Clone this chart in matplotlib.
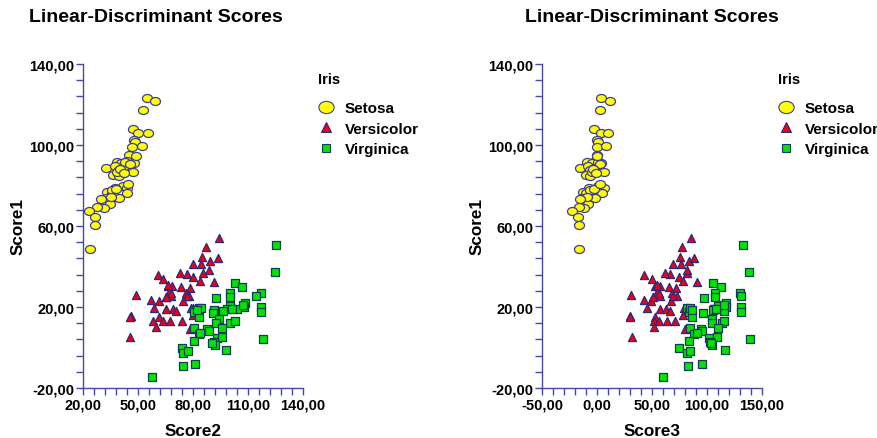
import matplotlib.pyplot as plt
from matplotlib.lines import Line2D
from matplotlib.path import Path
from matplotlib.transforms import Affine2D
from matplotlib.ticker import AutoMinorLocator, FuncFormatter

plt.rcParams['font.family'] = ['Liberation Sans', 'DejaVu Sans']
plt.rcParams['font.weight'] = 'bold'

# Discriminant scores (Score1 shared by both panels)
species = ["Setosa", "Versicolor", "Virginica"]

setosa_s1 = [123.1, 121.6, 117.4, 107.9, 106.1, 105.9, 102.6, 101.3, 99.0, 99.4,
             95.1, 92.1, 91.1, 91.5, 91.1, 88.5, 89.5, 88.8, 87.5, 86.8,
             85.2, 84.8, 86.8, 79.6, 78.6, 78.6, 76.3, 76.6, 76.3, 74.0,
             74.3, 73.7, 72.0, 70.7, 68.7, 69.4, 67.4, 64.4, 60.5, 48.6,
             77.6, 91.8, 90.5, 74.1, 88.1, 86.2, 78.3, 73.3, 80.7, 94.6]
setosa_s2 = [55.1, 59.4, 52.7, 47.1, 49.8, 55.5, 48.0, 48.5, 46.9, 52.2,
             45.1, 43.8, 47.8, 38.7, 40.9, 32.5, 37.6, 41.7, 39.8, 47.4,
             36.5, 39.8, 38.7, 42.0, 37.3, 44.2, 43.8, 33.3, 35.8, 32.5,
             37.3, 39.5, 31.8, 34.7, 31.5, 27.8, 23.4, 26.4, 26.4, 23.8,
             35.8, 42.7, 45.6, 35.1, 40.2, 42.4, 38.0, 29.8, 44.5, 48.9]
setosa_s3 = [3.4, 11.5, 2.7, -2.5, 3.6, 10.3, 0.3, 1.2, -0.3, 8.5,
             0.0, -1.8, 3.6, -9.1, -4.8, -15.7, -7.9, -3.0, -6.1, 6.6,
             -10.3, -6.1, -4.8, 1.2, -7.3, 6.1, 4.8, -12.7, -10.3, -13.9,
             -4.8, -1.8, -12.1, -7.9, -12.1, -16.4, -23.0, -17.0, -16.4, -16.4,
             -6.4, 0.9, 2.7, -9.1, -3.6, -0.9, -2.7, -15.5, 2.7, 0.0]

versicolor_s1 = [53.9, 49.5, 44.8, 41.2, 41.2, 42.9, 44.3, 36.6, 38.3, 35.0,
                 36.3, 36.6, 32.7, 32.2, 36.0, 33.8, 30.5, 30.2, 29.7, 29.5,
                 27.6, 25.6, 25.1, 26.8, 25.6, 23.0, 25.9, 23.5, 23.0, 19.7,
                 19.2, 19.0, 17.9, 19.5, 15.6, 15.2, 15.2, 16.0, 12.9, 10.3,
                 12.9, 12.9, 12.9, 9.1, 5.0, 26.8, 25.6, 30.9, 19.7, 25.0]
versicolor_s2 = [94.2, 87.3, 84.9, 80.0, 84.5, 89.4, 93.6, 85.5, 88.7, 80.0,
                 76.9, 73.1, 83.8, 91.6, 60.8, 63.6, 66.4, 68.7, 73.6, 78.2,
                 67.1, 67.8, 65.3, 76.0, 77.8, 74.6, 48.8, 57.3, 61.3, 58.6,
                 65.3, 69.1, 70.6, 80.0, 46.2, 45.6, 61.6, 80.0, 58.2, 60.0,
                 63.6, 67.3, 74.2, 78.2, 45.5, 68.0, 76.5, 66.4, 78.7, 65.1]
versicolor_s3 = [85.2, 77.3, 75.5, 69.4, 76.1, 83.4, 88.5, 81.5, 82.1, 74.8,
                 66.4, 61.8, 78.5, 90.6, 42.7, 50.0, 52.7, 57.3, 65.7, 71.8,
                 54.3, 57.3, 51.2, 68.2, 72.5, 67.0, 30.9, 42.5, 48.8, 45.5,
                 57.3, 62.7, 66.4, 80.9, 30.0, 30.0, 52.5, 78.5, 51.5, 52.1,
                 56.1, 63.9, 71.2, 80.3, 32.1, 56.1, 69.4, 54.3, 79.1, 50.9]

virginica_s1 = [50.6, 37.4, 32.0, 29.9, 26.9, 26.8, 25.4, 24.6, 24.8, 22.0,
                20.3, 20.0, 19.0, 18.9, 18.0, 18.5, 17.0, 19.4, 17.7, 14.9,
                19.9, 17.4, 13.9, 11.9, 12.1, 13.2, 9.5, 9.5, 9.0, 8.0,
                6.7, 4.8, 5.0, 3.2, 2.9, 1.1, 4.0, -0.2, -2.9, -1.9,
                -1.2, -9.1, -8.3, -14.6, 21.0, 19.7, 7.2, 18.8, 2.2, 18.3]
virginica_s2 = [125.3, 124.9, 103.1, 106.9, 100.0, 117.1, 114.5, 92.4, 100.2, 108.4,
                100.0, 108.0, 103.9, 98.4, 96.2, 91.3, 90.9, 83.3, 80.6, 83.3,
                117.1, 116.9, 94.0, 92.6, 100.0, 102.9, 95.8, 80.4, 87.8, 88.7,
                83.3, 93.3, 96.0, 80.7, 91.3, 92.0, 118.4, 73.8, 74.6, 77.3,
                97.9, 74.4, 81.3, 57.5, 107.5, 84.1, 83.8, 101.3, 90.4, 82.2]
virginica_s3 = [133.0, 138.5, 105.5, 112.7, 107.5, 130.0, 130.6, 97.0, 107.5, 117.0,
                109.7, 117.0, 106.6, 106.4, 115.5, 105.7, 96.4, 82.1, 83.4, 86.1,
                130.9, 130.9, 104.5, 104.3, 113.6, 115.7, 110.0, 84.3, 94.5, 95.5,
                88.5, 101.5, 109.1, 83.4, 103.0, 104.8, 138.8, 74.8, 81.5, 84.3,
                116.6, 83.0, 95.2, 60.3, 115.5, 84.5, 90.9, 108.2, 103.6, 86.4]

score1 = [setosa_s1, versicolor_s1, virginica_s1]
score2 = [setosa_s2, versicolor_s2, virginica_s2]
score3 = [setosa_s3, versicolor_s3, virginica_s3]

# tick values as printed on the axes
score1_ticks = [-20, 20, 60, 100, 140]
score2_ticks = [20, 50, 80, 110, 140]
score3_ticks = [-50, 0, 50, 100, 150]

axis_color = '#4848a8'
ellipse = Path.unit_circle().transformed(Affine2D().scale(1.25, 1.0))

# marker style per species: (marker, face, edge, size in plot, size in legend)
marker_style = {
    "Setosa": (ellipse, '#ffff00', '#3c3c96', 52, 11),
    "Versicolor": ('^', '#ee0010', '#2a2a80', 34, 7.5),
    "Virginica": ('s', '#00e400', '#123c5a', 27, 6.2),
}


def comma_fmt(v, pos):
    return f"{v:.2f}".replace('.', ',')


fig = plt.figure(figsize=(8.78, 4.39), dpi=100)


def draw_panel(left_px, xdata, xlabel, xticks, title_cx, legend_px):
    ax = fig.add_axes([left_px / 878, 50 / 439, 220 / 878, 324 / 439])
    for name, xs, ys in zip(species, xdata, score1):
        mk, fc, ec, s, _ = marker_style[name]
        ax.scatter(xs, ys, marker=mk, s=s, facecolor=fc, edgecolor=ec,
                   linewidth=0.9, zorder=3)

    ax.set_xlim(xticks[0], xticks[-1])
    ax.set_ylim(score1_ticks[0], score1_ticks[-1])
    ax.set_xticks(xticks)
    ax.set_yticks(score1_ticks)
    ax.xaxis.set_minor_locator(AutoMinorLocator(5))
    ax.yaxis.set_minor_locator(AutoMinorLocator(5))
    ax.xaxis.set_major_formatter(FuncFormatter(comma_fmt))
    ax.yaxis.set_major_formatter(FuncFormatter(comma_fmt))

    for side in ['top', 'right']:
        ax.spines[side].set_visible(False)
    for side in ['left', 'bottom']:
        ax.spines[side].set_color(axis_color)
        ax.spines[side].set_linewidth(1.0)
    ax.tick_params(which='both', direction='out', length=5, width=1,
                   color=axis_color, labelsize=10.5)
    ax.tick_params(axis='y', pad=1)
    ax.tick_params(axis='x', pad=2)

    ax.set_xlabel(xlabel, fontsize=12.3, fontweight='bold')
    ax.set_ylabel("Score1", fontsize=12.3, fontweight='bold')
    ax.xaxis.set_label_coords(0.5, -0.108)
    ax.yaxis.set_label_coords(-0.26, 0.5)

    fig.text(title_cx / 878, 1 - 18 / 439, "Linear-Discriminant Scores",
             ha='center', va='center', fontsize=14, fontweight='bold')

    # legend
    fig.text(legend_px / 878, 1 - 80 / 439, "Iris", ha='left', va='center',
             fontsize=10.5, fontweight='bold')
    handles = []
    for name in species:
        mk, fc, ec, _, ms = marker_style[name]
        handles.append(Line2D([], [], linestyle='none', marker=mk, markersize=ms,
                              markerfacecolor=fc, markeredgecolor=ec,
                              markeredgewidth=0.8, label=name))
    ax.legend(handles=handles, loc='upper left',
              bbox_to_anchor=(legend_px / 878, 1 - 102 / 439),
              bbox_transform=fig.transFigure, frameon=False,
              borderpad=0, borderaxespad=0, handlelength=1.0,
              handletextpad=0.76, labelspacing=0.43,
              prop={'weight': 'bold', 'size': 11})
    return ax


draw_panel(83, score2, "Score2", score2_ticks, 156, 318)
draw_panel(542, score3, "Score3", score3_ticks, 652, 778)

fig.savefig("out.png", dpi=100)
